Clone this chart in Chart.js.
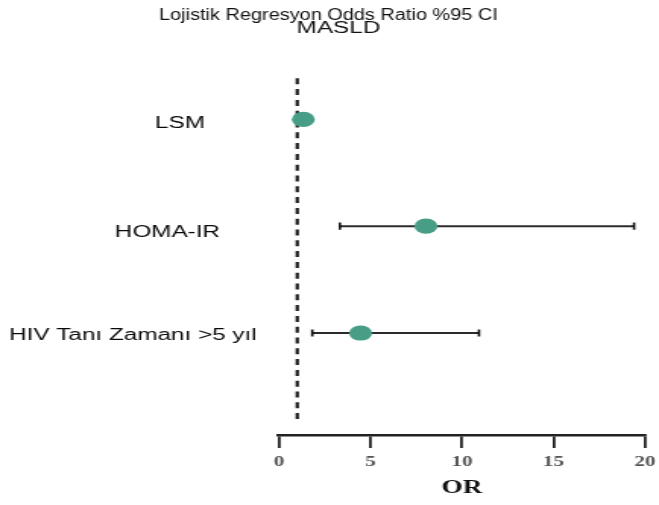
<!DOCTYPE html>
<html>
<head>
<meta charset="utf-8">
<script src="https://cdn.jsdelivr.net/npm/chart.js@4"></script>
<style>
  html, body { margin: 0; padding: 0; background: #fff; overflow: hidden; }
  /* the source picture is stretched sideways, so the chart is drawn narrow and widened */
  #wrap { width: 434px; height: 505px; transform: scaleX(1.51843); transform-origin: 0 0; }
</style>
</head>
<body>
<div id="wrap"><canvas id="forest"></canvas></div>
<script>
/* ---------- Data ---------- */
const titleLines = ["Lojistik Regresyon Odds Ratio %95 CI", "MASLD"];
const categories = ["LSM", "HOMA-IR", "HIV Tanı Zamanı >5 yıl"];
const oddsRatio  = [1.33, 8.03, 4.46];
const ciLower    = [1.15, 3.33, 1.82];
const ciUpper    = [1.55, 19.4, 10.93];
const refLineOR  = 1;
const refLineRows = [0.615, 3.815];   // row span of the dotted line
const xTickValues = [0, 5, 10, 15, 20];
const axisTitle  = "OR";

const GREEN = "#479d86";
const INK = "#2b2b2b";
const row = (i) => i + 1;

/* ---------- Datasets ---------- */
const ciSets = categories.map((c, i) => ({
  label: c + " CI",
  data: [{ x: ciLower[i], y: row(i) }, { x: ciUpper[i], y: row(i) }],
  showLine: true,
  borderColor: INK,
  borderWidth: 2,
  pointStyle: "line",
  rotation: 90,
  pointRadius: 3.6,
  pointBorderWidth: 1.6,
  pointBorderColor: "#111",
  order: 2
}));

const refSet = {
  label: "ref",
  data: refLineRows.map(y => ({ x: refLineOR, y })),
  showLine: true,
  borderColor: "#1a1a1a",
  borderWidth: 2.2,
  borderDash: [6, 4.8],
  pointRadius: 0,
  order: 3
};

const pointSet = {
  label: "OR",
  data: oddsRatio.map((v, i) => ({ x: v, y: row(i) })),
  pointStyle: "circle",
  pointRadius: 7.6,
  pointBackgroundColor: GREEN,
  pointBorderColor: GREEN,
  pointBorderWidth: 0,
  order: 0
};

/* ---------- Plugins: title and row labels ---------- */
const titlePlugin = {
  id: "squeezedTitle",
  afterDraw(chart, args, opts) {
    const ctx = chart.ctx;
    titleLines.forEach((t, i) => {
      const o = opts.lines[i];
      ctx.save();
      ctx.font = `${o.size}px "Liberation Sans", Arial, sans-serif`;
      ctx.fillStyle = "#111";
      ctx.textAlign = "center";
      ctx.textBaseline = "alphabetic";
      ctx.translate(o.cx, o.base);
      ctx.scale(o.sx, 1);
      ctx.fillText(t, 0, 0);
      ctx.restore();
    });
  }
};

const rowLabels = {
  id: "rowLabels",
  afterDraw(chart, args, opts) {
    const ctx = chart.ctx, y = chart.scales.y;
    ctx.save();
    ctx.font = '16px "Liberation Sans", Arial, sans-serif';
    ctx.fillStyle = "#0a0a0a";
    ctx.textAlign = "right";
    ctx.textBaseline = "alphabetic";
    categories.forEach((c, i) => {
      ctx.fillText(c, opts.right[i], y.getPixelForValue(row(i)) + opts.dy[i]);
    });
    ctx.restore();
  }
};

/* ---------- Chart ---------- */
new Chart(document.getElementById("forest"), {
  type: "scatter",
  data: { datasets: [pointSet, ...ciSets, refSet] },
  options: {
    responsive: true,
    maintainAspectRatio: false,
    animation: false,
    layout: { padding: { left: 183.7, right: 9.2, top: 66, bottom: 0 } },
    scales: {
      x: {
        type: "linear",
        min: 0, max: 20,
        afterBuildTicks: (s) => { s.ticks = xTickValues.map(v => ({ value: v })); },
        afterFit: (s) => { s.height = 70; s.paddingLeft = 0; s.paddingRight = 0; },
        grid: { drawOnChartArea: false, drawTicks: true, tickLength: 13, lineWidth: 1.8, color: "#222" },
        border: { display: true, width: 2.5, color: "#222" },
        ticks: {
          color: "#555",
          padding: 6,
          font: { family: '"Liberation Serif", "Times New Roman", serif', size: 14, weight: "bold" }
        },
        title: {
          display: true,
          text: axisTitle,
          color: "#111",
          padding: { top: 0, bottom: 6 },
          font: { family: '"Liberation Serif", "Times New Roman", serif', size: 18, weight: "bold" }
        }
      },
      y: {
        type: "linear",
        reverse: true,
        min: 0.5, max: 3.955,
        display: false
      }
    },
    plugins: {
      legend: { display: false },
      tooltip: { enabled: false },
      squeezedTitle: {
        lines: [
          { size: 16, sx: 0.82, cx: 216.3, base: 19.8 },
          { size: 16, sx: 1.0, cx: 222.9, base: 33 }
        ]
      },
      rowLabels: { right: [135, 144.9, 169.1], dy: [9, 10.5, 7] }
    }
  },
  plugins: [titlePlugin, rowLabels]
});
</script>
</body>
</html>
